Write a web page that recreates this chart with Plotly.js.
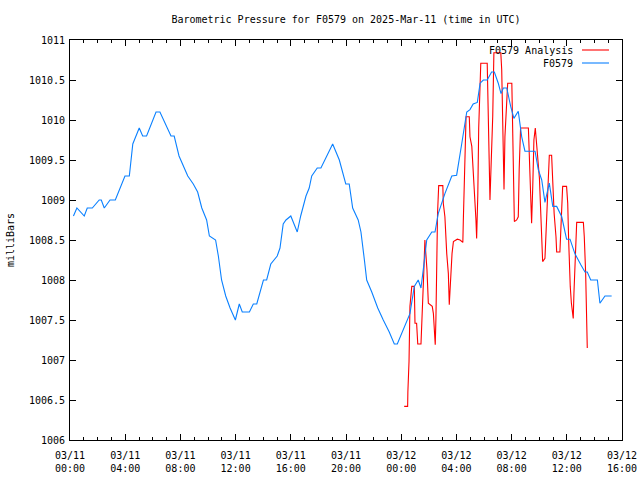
<!DOCTYPE html>
<html>
<head>
<meta charset="utf-8">
<script src="https://cdn.plot.ly/plotly-3.0.1.min.js"></script>
<style>html,body{margin:0;padding:0;background:#fff;}#chart{width:640px;height:480px;}</style>
</head>
<body>
<div id="chart"></div>
<script>
// F0579 observed pressure (mbar)
var obsTimes = [
"2025-03-11 00:15","2025-03-11 00:30","2025-03-11 01:02","2025-03-11 01:15","2025-03-11 01:37","2025-03-11 02:07","2025-03-11 02:16","2025-03-11 02:29","2025-03-11 02:54","2025-03-11 03:17",
"2025-03-11 03:59","2025-03-11 04:18","2025-03-11 04:33","2025-03-11 05:01","2025-03-11 05:16","2025-03-11 05:33","2025-03-11 06:14","2025-03-11 06:31","2025-03-11 07:19","2025-03-11 07:33",
"2025-03-11 07:54","2025-03-11 08:32","2025-03-11 08:56","2025-03-11 09:15","2025-03-11 09:33","2025-03-11 09:54","2025-03-11 10:06","2025-03-11 10:33","2025-03-11 10:45","2025-03-11 10:59",
"2025-03-11 11:17","2025-03-11 11:36","2025-03-11 11:59","2025-03-11 12:16","2025-03-11 12:29","2025-03-11 13:00","2025-03-11 13:17","2025-03-11 13:32","2025-03-11 14:01","2025-03-11 14:15",
"2025-03-11 14:33","2025-03-11 15:01","2025-03-11 15:13","2025-03-11 15:27","2025-03-11 15:39","2025-03-11 16:00","2025-03-11 16:28","2025-03-11 16:43","2025-03-11 17:06","2025-03-11 17:20",
"2025-03-11 17:31","2025-03-11 17:55","2025-03-11 18:11","2025-03-11 18:36","2025-03-11 19:02","2025-03-11 19:31","2025-03-11 19:59","2025-03-11 20:14","2025-03-11 20:29","2025-03-11 20:53",
"2025-03-11 21:05","2025-03-11 21:20","2025-03-11 21:30","2025-03-11 21:52","2025-03-11 22:18","2025-03-11 22:42","2025-03-11 23:08","2025-03-11 23:30","2025-03-11 23:43",
"2025-03-12 00:38","2025-03-12 00:57","2025-03-12 01:14","2025-03-12 01:26","2025-03-12 01:36","2025-03-12 01:51","2025-03-12 02:13","2025-03-12 02:27","2025-03-12 02:41","2025-03-12 03:10",
"2025-03-12 03:40","2025-03-12 04:01","2025-03-12 04:23","2025-03-12 04:45","2025-03-12 04:59","2025-03-12 05:13","2025-03-12 05:31","2025-03-12 05:43","2025-03-12 05:57","2025-03-12 06:14",
"2025-03-12 06:33","2025-03-12 06:45","2025-03-12 07:02","2025-03-12 07:14","2025-03-12 07:24","2025-03-12 07:39","2025-03-12 07:56","2025-03-12 08:10","2025-03-12 08:29","2025-03-12 08:44",
"2025-03-12 08:58","2025-03-12 09:42","2025-03-12 09:56","2025-03-12 10:11","2025-03-12 10:25","2025-03-12 10:44","2025-03-12 10:59","2025-03-12 11:16","2025-03-12 11:38","2025-03-12 11:59",
"2025-03-12 12:14","2025-03-12 12:35","2025-03-12 13:01","2025-03-12 13:19","2025-03-12 13:29","2025-03-12 13:44","2025-03-12 14:13","2025-03-12 14:24","2025-03-12 14:46","2025-03-12 15:15"
];
var obsValues = [
1008.8,1008.9,1008.8,1008.9,1008.9,1009.0,1009.0,1008.9,1009.0,1009.0,
1009.3,1009.3,1009.7,1009.9,1009.8,1009.8,1010.1,1010.1,1009.8,1009.8,
1009.55,1009.3,1009.2,1009.1,1008.9,1008.75,1008.55,1008.5,1008.3,1008.0,
1007.8,1007.65,1007.5,1007.7,1007.6,1007.6,1007.7,1007.7,1008.0,1008.0,
1008.2,1008.3,1008.4,1008.7,1008.75,1008.8,1008.6,1008.8,1009.05,1009.15,
1009.3,1009.4,1009.4,1009.55,1009.7,1009.5,1009.2,1009.2,1008.9,1008.75,
1008.6,1008.25,1008.0,1007.85,1007.65,1007.5,1007.35,1007.2,1007.2,
1007.58,1007.92,1008.0,1007.9,1008.13,1008.5,1008.6,1008.6,1008.83,1009.08,
1009.3,1009.31,1009.7,1010.1,1010.13,1010.2,1010.22,1010.46,1010.5,1010.5,
1010.6,1010.6,1010.46,1010.33,1010.4,1010.4,1010.17,1010.02,1010.11,1009.79,
1009.61,1009.61,1009.38,1009.25,1008.97,1009.21,1008.92,1008.92,1008.79,1008.51,
1008.51,1008.33,1008.19,1008.1,1008.1,1008.0,1008.0,1007.71,1007.8,1007.8
];
// F0579 Analysis (mbar)
var anaTimes = [
"2025-03-12 00:13","2025-03-12 00:28","2025-03-12 00:29","2025-03-12 00:34","2025-03-12 00:38","2025-03-12 00:46","2025-03-12 00:57","2025-03-12 01:00","2025-03-12 01:07","2025-03-12 01:12",
"2025-03-12 01:26","2025-03-12 01:29","2025-03-12 01:33","2025-03-12 01:38","2025-03-12 01:43","2025-03-12 01:48","2025-03-12 01:52","2025-03-12 01:58","2025-03-12 02:05","2025-03-12 02:15",
"2025-03-12 02:20","2025-03-12 02:24","2025-03-12 02:28","2025-03-12 02:31","2025-03-12 02:34","2025-03-12 02:38","2025-03-12 02:43","2025-03-12 03:01","2025-03-12 03:03","2025-03-12 03:10",
"2025-03-12 03:18","2025-03-12 03:25","2025-03-12 03:29","2025-03-12 03:35","2025-03-12 03:41","2025-03-12 03:47","2025-03-12 04:04","2025-03-12 04:16","2025-03-12 04:28","2025-03-12 04:30",
"2025-03-12 04:34","2025-03-12 04:39","2025-03-12 04:42","2025-03-12 04:56","2025-03-12 04:59","2025-03-12 05:07","2025-03-12 05:13","2025-03-12 05:21","2025-03-12 05:25","2025-03-12 05:28",
"2025-03-12 05:33","2025-03-12 05:37","2025-03-12 05:41","2025-03-12 05:46","2025-03-12 06:14","2025-03-12 06:19","2025-03-12 06:23","2025-03-12 06:26","2025-03-12 06:29","2025-03-12 06:38",
"2025-03-12 06:43","2025-03-12 07:13","2025-03-12 07:17","2025-03-12 07:21","2025-03-12 07:27","2025-03-12 07:31","2025-03-12 07:39","2025-03-12 07:43","2025-03-12 08:01","2025-03-12 08:05",
"2025-03-12 08:07","2025-03-12 08:12","2025-03-12 08:22","2025-03-12 08:29","2025-03-12 08:33","2025-03-12 08:39","2025-03-12 09:13","2025-03-12 09:17","2025-03-12 09:23","2025-03-12 09:27",
"2025-03-12 09:32","2025-03-12 09:37","2025-03-12 09:43","2025-03-12 09:49","2025-03-12 09:53","2025-03-12 10:01","2025-03-12 10:08","2025-03-12 10:12","2025-03-12 10:15","2025-03-12 10:25",
"2025-03-12 10:29","2025-03-12 10:35","2025-03-12 10:40","2025-03-12 10:44","2025-03-12 10:54","2025-03-12 10:59","2025-03-12 11:05","2025-03-12 11:13","2025-03-12 11:16","2025-03-12 11:30",
"2025-03-12 11:35","2025-03-12 11:42","2025-03-12 11:59","2025-03-12 12:04","2025-03-12 12:08","2025-03-12 12:11","2025-03-12 12:15","2025-03-12 12:20","2025-03-12 12:24","2025-03-12 12:28",
"2025-03-12 12:31","2025-03-12 12:35","2025-03-12 12:40","2025-03-12 12:43","2025-03-12 13:12","2025-03-12 13:16","2025-03-12 13:22","2025-03-12 13:26","2025-03-12 13:29"
];
var anaValues = [
1006.42,1006.42,1006.6,1006.98,1007.67,1007.92,1007.92,1007.46,1007.46,1007.2,
1007.2,1007.38,1007.69,1008.08,1008.5,1008.33,1008.13,1007.71,1007.69,1007.67,
1007.58,1007.33,1007.19,1007.52,1008.17,1008.83,1009.18,1009.18,1008.96,1008.79,
1008.33,1008.08,1007.69,1008.08,1008.33,1008.48,1008.51,1008.5,1008.47,1008.73,
1009.25,1009.75,1010.04,1010.04,1009.79,1009.67,1009.38,1009.08,1008.75,1008.52,
1009.06,1009.9,1010.42,1010.71,1010.71,1009.88,1009.29,1009.0,1009.27,1010.05,
1010.84,1010.84,1010.63,1009.79,1009.13,1009.79,1010.23,1010.46,1010.46,1009.96,
1009.6,1008.73,1008.75,1008.79,1009.38,1009.9,1009.9,1009.46,1008.92,1008.71,
1009.17,1009.75,1009.9,1009.71,1009.54,1009.27,1008.75,1008.38,1008.23,1008.27,
1008.54,1008.92,1009.4,1009.56,1009.56,1009.17,1008.83,1008.54,1008.35,1008.35,
1008.75,1009.17,1009.17,1008.96,1008.5,1008.17,1007.92,1007.71,1007.6,1007.52,
1007.83,1008.13,1008.5,1008.72,1008.72,1008.54,1008.08,1007.33,1007.15
];
var seriesNames = ["F0579 Analysis", "F0579"];
var seriesColors = ["#ff0000", "#0a80ff"];
var chartTitle = "Barometric Pressure for F0579 on 2025-Mar-11 (time in UTC)";
var yTitle = "milliBars";

var FONT = "DejaVu Sans Mono, Liberation Mono, monospace";
var FS = 10;

var traces = [
  {x: anaTimes, y: anaValues, type: "scatter", mode: "lines", name: seriesNames[0],
   line: {color: seriesColors[0], width: 1.1}, showlegend: false},
  {x: obsTimes, y: obsValues, type: "scatter", mode: "lines", name: seriesNames[1],
   line: {color: seriesColors[1], width: 1.1}, showlegend: false}
];

// legend drawn gnuplot-style (text left of sample line)
function px2x(p){return (p-70)/552;}
function py2y(p){return (440-p)/400;}
var legendRows = [50, 63];
var annotations = [], shapes = [];
for (var i = 0; i < seriesNames.length; i++) {
  annotations.push({xref:"paper", yref:"paper", x:px2x(575), y:py2y(legendRows[i]),
    xanchor:"right", yanchor:"middle", text:seriesNames[i], showarrow:false,
    font:{family:FONT, size:FS, color:"#000"}});
  shapes.push({type:"line", xref:"paper", yref:"paper", x0:px2x(582), x1:px2x(609),
    y0:py2y(legendRows[i]), y1:py2y(legendRows[i]), line:{color:seriesColors[i], width:1.1}});
}

var layout = {
  width: 640, height: 480,
  margin: {l: 70, r: 18, t: 40, b: 40},
  paper_bgcolor: "#fff", plot_bgcolor: "#fff",
  separators: ".",
  font: {family: FONT, size: FS, color: "#000"},
  title: {text: chartTitle, xref: "paper", x: 0.5, xanchor: "center", y: 0.96, yanchor: "middle",
          font: {family: FONT, size: FS, color: "#000"}},
  xaxis: {
    type: "date",
    range: ["2025-03-11 00:00", "2025-03-12 16:00"],
    dtick: 4*3600000, tick0: "2025-03-11 00:00",
    tickformat: "%m/%d<br>%H:%M",
    ticks: "inside", ticklen: 6, tickcolor: "#000", tickwidth: 1,
    minor: {dtick: 3600000, ticks: "inside", ticklen: 3, tickcolor: "#000"},
    showline: true, linecolor: "#000", linewidth: 1, mirror: "ticks",
    showgrid: false, zeroline: false,
    tickfont: {family: FONT, size: FS, color: "#000"},
    ticklabelstandoff: 6
  },
  yaxis: {
    range: [1006, 1011], dtick: 0.5, tick0: 1006,
    separatethousands: false,
    ticks: "inside", ticklen: 6, tickcolor: "#000", tickwidth: 1,
    showline: true, linecolor: "#000", linewidth: 1, mirror: "ticks",
    showgrid: false, zeroline: false,
    tickfont: {family: FONT, size: FS, color: "#000"},
    ticklabelstandoff: 2,
    title: {text: yTitle, standoff: 12, font: {family: FONT, size: FS, color: "#000"}}
  },
  annotations: annotations,
  shapes: shapes,
  hovermode: false
};

Plotly.newPlot("chart", traces, layout, {displayModeBar: false, staticPlot: true});
</script>
</body>
</html>
